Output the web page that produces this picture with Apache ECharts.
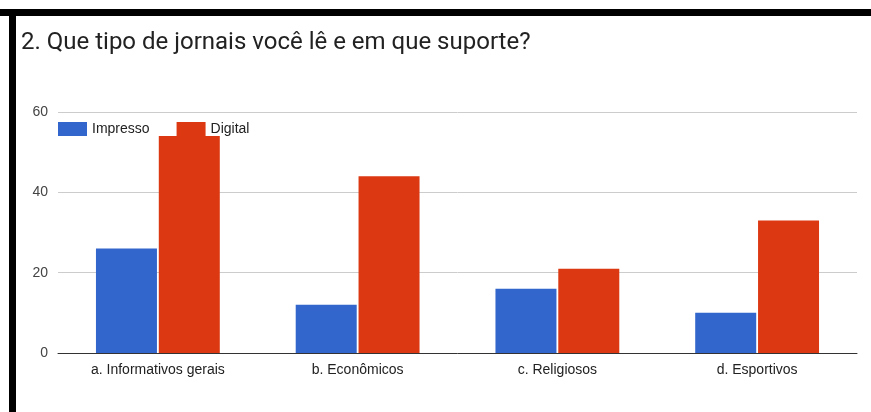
<!DOCTYPE html>
<html>
<head>
<meta charset="utf-8">
<script src="https://cdn.jsdelivr.net/npm/echarts@6/dist/echarts.min.js"></script>
<style>
html,body{margin:0;padding:0;background:#fff;}
#c{width:871px;height:412px;}
</style>
</head>
<body>
<div id="c"></div>
<script>
var titleText = '2. Que tipo de jornais você lê e em que suporte?';
var categories = ['a. Informativos gerais', 'b. Econômicos', 'c. Religiosos', 'd. Esportivos'];
var seriesNames = ['Impresso', 'Digital'];
var impresso = [26, 12, 16, 10];
var digital = [54, 44, 21, 33];
var yTicks = [0, 20, 40, 60];

var chart = echarts.init(document.getElementById('c'), null, {renderer: 'canvas'});
chart.setOption({
  animation: false,
  backgroundColor: '#fff',
  graphic: [
    {type: 'rect', shape: {x: 0, y: 9, width: 871, height: 7}, style: {fill: '#000'}},
    {type: 'rect', shape: {x: 9, y: 9, width: 7, height: 403}, style: {fill: '#000'}}
  ],
  title: {
    text: titleText,
    left: 16,
    top: 26,
    textStyle: {fontFamily: 'Roboto', fontSize: 24, fontWeight: 'normal', color: '#222'}
  },
  legend: {
    data: seriesNames,
    left: 58,
    top: 122,
    padding: 0,
    itemWidth: 29,
    itemHeight: 14,
    itemGap: 27,
    icon: 'rect',
    textStyle: {fontFamily: 'Liberation Sans', fontSize: 14, color: '#222'}
  },
  grid: {left: 58, right: 14, top: 112, bottom: 59, containLabel: false},
  xAxis: {
    type: 'category',
    data: categories,
    axisTick: {show: false},
    axisLine: {lineStyle: {color: '#333', width: 1}},
    axisLabel: {fontFamily: 'Liberation Sans', fontSize: 14, color: '#222', margin: 10}
  },
  yAxis: {
    type: 'value',
    min: yTicks[0],
    max: yTicks[yTicks.length - 1],
    interval: 20,
    axisLine: {show: false},
    axisTick: {show: false},
    splitLine: {lineStyle: {color: '#ccc'}},
    axisLabel: {fontFamily: 'Liberation Sans', fontSize: 14, color: '#444', margin: 10}
  },
  series: [
    {name: seriesNames[0], type: 'bar', data: impresso, barWidth: 61, barGap: '3%',
     itemStyle: {color: '#3366cc'}},
    {name: seriesNames[1], type: 'bar', data: digital, barWidth: 61,
     itemStyle: {color: '#dc3912'}}
  ]
});
</script>
</body>
</html>
